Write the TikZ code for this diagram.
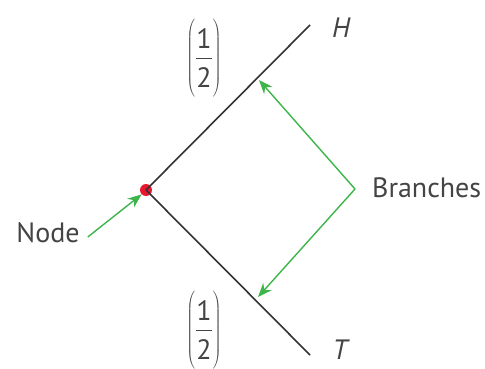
\documentclass[tikz,border=0pt]{standalone}
\usepackage{fontspec}
\setmainfont{PT Sans}
\usepackage{tikz}
\usetikzlibrary{arrows.meta}
\definecolor{treegray}{HTML}{333333}
\definecolor{textgray}{HTML}{444444}
\definecolor{pointgreen}{HTML}{3DB54A}
\definecolor{dotred}{HTML}{E8172D}
\newcommand{\halfprob}{$\left(\rule[-31pt]{0pt}{77pt}\frac{\rule[-9pt]{0pt}{9pt}\mbox{1}}{\rule{0pt}{29pt}\mbox{2}}\right)$}

\begin{document}
\begin{tikzpicture}[x=1pt,y=-1pt,
        label/.style={text=textgray,font=\fontsize{28}{34}\selectfont,inner sep=0pt},
        branch/.style={treegray,line width=1.6pt},
        pointer/.style={pointgreen,line width=1.4pt,-{Stealth[length=14pt,width=11pt]}}]
      \useasboundingbox (0,0) rectangle (485,369);
      % tree
      \node[circle,fill=dotred,inner sep=0pt,minimum size=12pt] (root) at (146,190) {};
      \coordinate (hend) at (310,25);
      \coordinate (tend) at (310,355);
      \draw[branch] (root.center) -- (hend);
      \draw[branch] (root.center) -- (tend);
      \node[label,font=\fontsize{28}{34}\selectfont\itshape] (heads) at (341,28) {H};
      \node[label,font=\fontsize{28}{34}\selectfont\itshape] (tails) at (340,350) {T};
      \node[label] (probh) at (204,58) {\halfprob};
      \node[label] (probt) at (204,330) {\halfprob};
      % callouts
      \node[label] (nodetext) at (48,233) {Node};
      \node[label,anchor=west] (branches) at (372,188) {Branches};
      \coordinate (fork) at (355,189);
      \coordinate (upper) at (259,80);
      \coordinate (lower) at (258,297);
      \draw[pointer] (nodetext.east) ++(8,4) -- (root.south west);
      \draw[pointer] (fork) -- (upper);
      \draw[pointer] (fork) -- (lower);
    \end{tikzpicture}
\end{document}
